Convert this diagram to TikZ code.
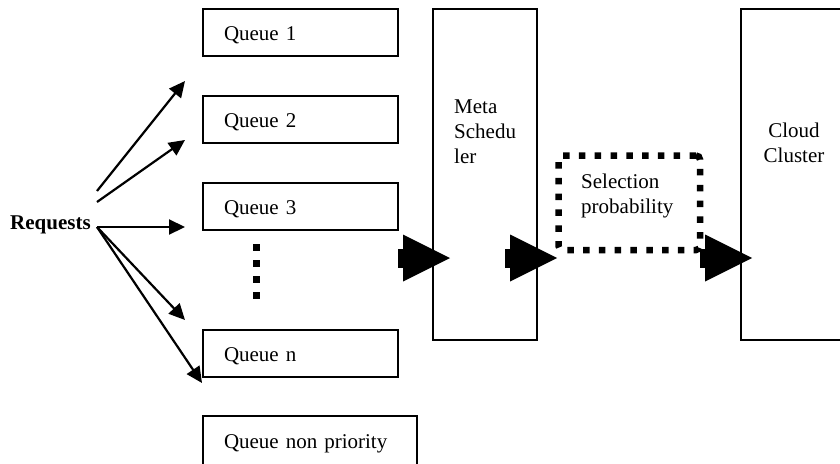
\documentclass[tikz,border=0pt]{standalone}
\usepackage{fontspec}
\setmainfont{Liberation Serif}
\usetikzlibrary{arrows.meta,calc}
\begin{document}
\begin{tikzpicture}[x=1pt,y=-1pt,
  every node/.style={font=\fontsize{21}{25}\selectfont},
  qbox/.style={draw,line width=1.3pt,outer sep=0pt,anchor=north west,minimum height=47pt,inner xsep=21pt,inner ysep=0pt,text width=153pt,align=left,text height=17pt,text depth=1pt},
  bigbox/.style={draw,line width=1.3pt,outer sep=0pt,anchor=north west,minimum width=104pt,minimum height=331pt},
  selbox/.style={draw,line width=6.5pt,dash pattern=on 6.5pt off 9.3pt,rounded corners=4pt,outer sep=0pt,anchor=north west,minimum width=141.5pt,minimum height=94.5pt},
  reqarrow/.style={line width=2.2pt,-{Triangle[length=16pt,width=15pt]}},
  bigarrow/.style={line width=19pt,-{Triangle[length=47pt,width=47pt,line width=0pt]}},
  dotline/.style={line width=7pt,dash pattern=on 7pt off 9pt},
  lbl/.style={inner sep=0pt,align=left}
]
\useasboundingbox (0,0) rectangle (840,463);
% queues
\node[qbox] (q1) at (203,9) {Queue 1};
\node[qbox] (q2) at (203,96) {Queue 2};
\node[qbox] (q3) at (203,183) {Queue 3};
\node[qbox] (qn) at (203,330) {Queue n};
\node[qbox,text width=172pt,minimum height=49pt] (qnp) at (203,416) {Queue non priority};
% big boxes
\node[bigbox] (meta) at (433,9) {};
\node[lbl,anchor=base west] (metat) at (454,163) {Meta\\Schedu\\ler};
\node[bigbox] (cloud) at (741,9) {};
\node[lbl,align=center,anchor=base] (cloudt) at (794,162) {Cloud\\Cluster};
\node[selbox] (sel) at (558.5,155.5) {};
\node[lbl,anchor=base west] (selt) at (581,213) {Selection\\probability};
% requests
\node[inner sep=0pt,anchor=base west,font=\fontsize{21}{25}\selectfont\bfseries] (req) at (10,229) {Requests};
\coordinate (r1) at (97,191);
\coordinate (r2) at (97,202);
\coordinate (r3) at (97,227);
\coordinate (e1) at (185,81);
\coordinate (e2) at (185,140);
\coordinate (e3) at (185,227);
\coordinate (e4) at (185,320);
\coordinate (e5) at (202,383);
\draw[reqarrow] (r1) -- (e1);
\draw[reqarrow] (r2) -- (e2);
\draw[reqarrow] (r3) -- (e3);
\draw[reqarrow] (r3) -- (e4);
\draw[reqarrow] (r3) -- (e5);
% dots
\coordinate (d1) at (256,244);
\coordinate (d2) at (256,300);
\draw[dotline] (d1) -- (d2);
% big arrows
\coordinate (b1s) at (398,258);
\coordinate (b1e) at (450,258);
\coordinate (b2s) at (505,258);
\coordinate (b2e) at (557,258);
\coordinate (b3s) at (700,258);
\coordinate (b3e) at (752,258);
\draw[bigarrow] (b1s) -- (b1e);
\draw[bigarrow] (b2s) -- (b2e);
\draw[bigarrow] (b3s) -- (b3e);
\end{tikzpicture}
\end{document}
